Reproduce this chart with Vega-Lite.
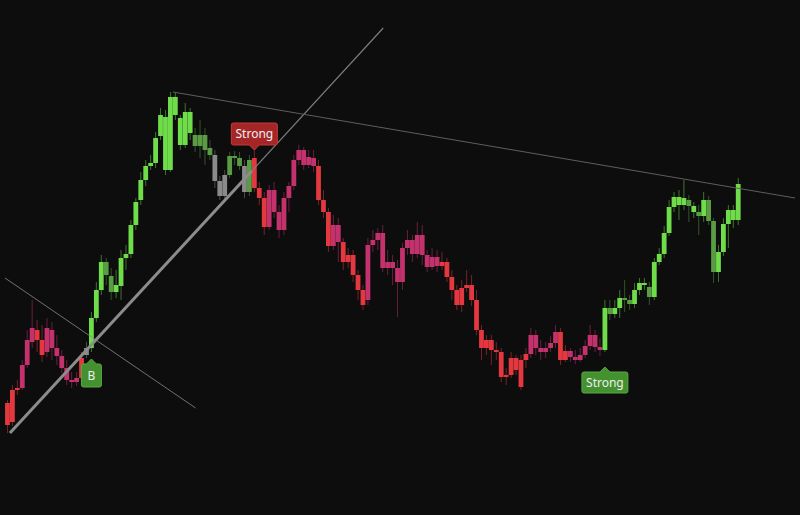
{
"$schema": "https://vega.github.io/schema/vega-lite/v6.json",
"width": 800, "height": 515,
"autosize": {"type": "fit", "contains": "padding"},
"padding": 0,
"background": "#0d0d0d",
"config": {"view": {"stroke": null}},
"datasets": {
"candles": [
{"i":0,"o":97,"h":100,"l":67,"c":75,"t":"down"},
{"i":1,"o":78,"h":115,"l":74,"c":110,"t":"down"},
{"i":2,"o":110,"h":120,"l":105,"c":112,"t":"down"},
{"i":3,"o":112,"h":140,"l":110,"c":135,"t":"downSoft"},
{"i":4,"o":135,"h":170,"l":132,"c":160,"t":"downSoft"},
{"i":5,"o":158,"h":200,"l":152,"c":172,"t":"downSoft"},
{"i":6,"o":170,"h":180,"l":148,"c":160,"t":"down"},
{"i":7,"o":160,"h":175,"l":138,"c":145,"t":"down"},
{"i":8,"o":148,"h":182,"l":143,"c":172,"t":"downSoft"},
{"i":9,"o":170,"h":178,"l":140,"c":152,"t":"downSoft"},
{"i":10,"o":152,"h":165,"l":135,"c":144,"t":"downSoft"},
{"i":11,"o":144,"h":150,"l":127,"c":132,"t":"downSoft"},
{"i":12,"o":132,"h":140,"l":115,"c":120,"t":"downSoft"},
{"i":13,"o":120,"h":128,"l":112,"c":118,"t":"downSoft"},
{"i":14,"o":118,"h":128,"l":114,"c":122,"t":"downSoft"},
{"i":15,"o":122,"h":148,"l":118,"c":142,"t":"down"},
{"i":16,"o":145,"h":158,"l":142,"c":152,"t":"flat"},
{"i":17,"o":152,"h":188,"l":148,"c":182,"t":"up"},
{"i":18,"o":182,"h":218,"l":178,"c":210,"t":"up"},
{"i":19,"o":210,"h":245,"l":205,"c":238,"t":"up"},
{"i":20,"o":238,"h":242,"l":215,"c":225,"t":"upSoft"},
{"i":21,"o":224,"h":232,"l":200,"c":208,"t":"upSoft"},
{"i":22,"o":208,"h":230,"l":202,"c":215,"t":"up"},
{"i":23,"o":214,"h":250,"l":200,"c":242,"t":"up"},
{"i":24,"o":242,"h":255,"l":230,"c":246,"t":"up"},
{"i":25,"o":246,"h":280,"l":242,"c":275,"t":"up"},
{"i":26,"o":275,"h":302,"l":270,"c":298,"t":"up"},
{"i":27,"o":300,"h":328,"l":295,"c":320,"t":"up"},
{"i":28,"o":320,"h":340,"l":314,"c":334,"t":"up"},
{"i":29,"o":334,"h":345,"l":330,"c":337,"t":"up"},
{"i":30,"o":337,"h":368,"l":332,"c":362,"t":"up"},
{"i":31,"o":364,"h":392,"l":360,"c":385,"t":"up"},
{"i":32,"o":383,"h":390,"l":325,"c":330,"t":"up"},
{"i":33,"o":330,"h":408,"l":328,"c":403,"t":"up"},
{"i":34,"o":403,"h":408,"l":380,"c":385,"t":"up"},
{"i":35,"o":382,"h":385,"l":350,"c":355,"t":"up"},
{"i":36,"o":355,"h":397,"l":352,"c":388,"t":"up"},
{"i":37,"o":388,"h":392,"l":360,"c":367,"t":"up"},
{"i":38,"o":365,"h":372,"l":348,"c":354,"t":"upSoft"},
{"i":39,"o":354,"h":380,"l":342,"c":365,"t":"upSoft"},
{"i":40,"o":365,"h":372,"l":335,"c":350,"t":"upSoft"},
{"i":41,"o":352,"h":360,"l":340,"c":345,"t":"upSoft"},
{"i":42,"o":345,"h":350,"l":312,"c":319,"t":"flat"},
{"i":43,"o":319,"h":324,"l":300,"c":304,"t":"flat"},
{"i":44,"o":304,"h":330,"l":298,"c":325,"t":"flat"},
{"i":45,"o":325,"h":348,"l":322,"c":344,"t":"upSoft"},
{"i":46,"o":344,"h":349,"l":335,"c":342,"t":"upSoft"},
{"i":47,"o":342,"h":348,"l":330,"c":334,"t":"upSoft"},
{"i":48,"o":334,"h":340,"l":302,"c":308,"t":"flat"},
{"i":49,"o":308,"h":345,"l":304,"c":340,"t":"upSoft"},
{"i":50,"o":342,"h":350,"l":308,"c":312,"t":"down"},
{"i":51,"o":312,"h":318,"l":295,"c":302,"t":"down"},
{"i":52,"o":302,"h":308,"l":265,"c":273,"t":"down"},
{"i":53,"o":273,"h":315,"l":270,"c":310,"t":"downSoft"},
{"i":54,"o":310,"h":318,"l":282,"c":288,"t":"downSoft"},
{"i":55,"o":288,"h":295,"l":262,"c":270,"t":"downSoft"},
{"i":56,"o":270,"h":308,"l":265,"c":302,"t":"downSoft"},
{"i":57,"o":302,"h":318,"l":288,"c":314,"t":"downSoft"},
{"i":58,"o":314,"h":345,"l":310,"c":340,"t":"downSoft"},
{"i":59,"o":340,"h":355,"l":335,"c":350,"t":"downSoft"},
{"i":60,"o":350,"h":353,"l":330,"c":335,"t":"downSoft"},
{"i":61,"o":335,"h":350,"l":332,"c":343,"t":"downSoft"},
{"i":62,"o":342,"h":350,"l":328,"c":334,"t":"downSoft"},
{"i":63,"o":334,"h":340,"l":295,"c":300,"t":"down"},
{"i":64,"o":300,"h":310,"l":282,"c":288,"t":"down"},
{"i":65,"o":288,"h":292,"l":248,"c":254,"t":"down"},
{"i":66,"o":254,"h":285,"l":250,"c":275,"t":"downSoft"},
{"i":67,"o":275,"h":282,"l":238,"c":258,"t":"downSoft"},
{"i":68,"o":258,"h":262,"l":230,"c":238,"t":"down"},
{"i":69,"o":238,"h":252,"l":232,"c":245,"t":"down"},
{"i":70,"o":245,"h":250,"l":218,"c":225,"t":"down"},
{"i":71,"o":225,"h":230,"l":200,"c":210,"t":"down"},
{"i":72,"o":210,"h":215,"l":190,"c":195,"t":"down"},
{"i":73,"o":200,"h":262,"l":195,"c":255,"t":"downSoft"},
{"i":74,"o":255,"h":270,"l":248,"c":260,"t":"downSoft"},
{"i":75,"o":260,"h":272,"l":250,"c":267,"t":"downSoft"},
{"i":76,"o":267,"h":275,"l":228,"c":232,"t":"downSoft"},
{"i":77,"o":232,"h":250,"l":225,"c":238,"t":"downSoft"},
{"i":78,"o":238,"h":245,"l":215,"c":232,"t":"downSoft"},
{"i":79,"o":232,"h":240,"l":183,"c":218,"t":"downSoft"},
{"i":80,"o":218,"h":257,"l":210,"c":252,"t":"downSoft"},
{"i":81,"o":252,"h":270,"l":245,"c":260,"t":"downSoft"},
{"i":82,"o":260,"h":265,"l":238,"c":246,"t":"downSoft"},
{"i":83,"o":246,"h":278,"l":242,"c":265,"t":"downSoft"},
{"i":84,"o":265,"h":275,"l":235,"c":245,"t":"downSoft"},
{"i":85,"o":245,"h":250,"l":228,"c":233,"t":"downSoft"},
{"i":86,"o":233,"h":252,"l":230,"c":243,"t":"downSoft"},
{"i":87,"o":243,"h":250,"l":228,"c":234,"t":"downSoft"},
{"i":88,"o":234,"h":248,"l":230,"c":238,"t":"down"},
{"i":89,"o":238,"h":242,"l":218,"c":223,"t":"down"},
{"i":90,"o":223,"h":230,"l":200,"c":210,"t":"down"},
{"i":91,"o":210,"h":215,"l":190,"c":195,"t":"down"},
{"i":92,"o":195,"h":220,"l":188,"c":212,"t":"down"},
{"i":93,"o":212,"h":230,"l":208,"c":215,"t":"down"},
{"i":94,"o":215,"h":225,"l":194,"c":200,"t":"down"},
{"i":95,"o":200,"h":210,"l":165,"c":170,"t":"down"},
{"i":96,"o":170,"h":175,"l":140,"c":152,"t":"down"},
{"i":97,"o":152,"h":165,"l":145,"c":160,"t":"down"},
{"i":98,"o":160,"h":165,"l":135,"c":150,"t":"down"},
{"i":99,"o":150,"h":158,"l":140,"c":148,"t":"down"},
{"i":100,"o":148,"h":152,"l":118,"c":123,"t":"down"},
{"i":101,"o":123,"h":132,"l":115,"c":125,"t":"down"},
{"i":102,"o":125,"h":148,"l":122,"c":142,"t":"down"},
{"i":103,"o":142,"h":145,"l":125,"c":130,"t":"down"},
{"i":104,"o":113,"h":145,"l":110,"c":140,"t":"down"},
{"i":105,"o":140,"h":152,"l":132,"c":146,"t":"down"},
{"i":106,"o":146,"h":172,"l":142,"c":165,"t":"downSoft"},
{"i":107,"o":165,"h":170,"l":145,"c":152,"t":"downSoft"},
{"i":108,"o":152,"h":160,"l":140,"c":148,"t":"downSoft"},
{"i":109,"o":148,"h":158,"l":142,"c":152,"t":"downSoft"},
{"i":110,"o":152,"h":164,"l":148,"c":157,"t":"downSoft"},
{"i":111,"o":157,"h":175,"l":152,"c":168,"t":"downSoft"},
{"i":112,"o":168,"h":172,"l":135,"c":140,"t":"down"},
{"i":113,"o":140,"h":155,"l":138,"c":149,"t":"down"},
{"i":114,"o":149,"h":152,"l":138,"c":143,"t":"downSoft"},
{"i":115,"o":143,"h":150,"l":136,"c":140,"t":"downSoft"},
{"i":116,"o":140,"h":152,"l":138,"c":145,"t":"downSoft"},
{"i":117,"o":145,"h":160,"l":142,"c":154,"t":"downSoft"},
{"i":118,"o":154,"h":175,"l":150,"c":165,"t":"downSoft"},
{"i":119,"o":165,"h":170,"l":148,"c":153,"t":"downSoft"},
{"i":120,"o":153,"h":162,"l":144,"c":150,"t":"downSoft"},
{"i":121,"o":150,"h":200,"l":148,"c":192,"t":"up"},
{"i":122,"o":192,"h":200,"l":180,"c":186,"t":"upSoft"},
{"i":123,"o":186,"h":200,"l":182,"c":192,"t":"up"},
{"i":124,"o":192,"h":210,"l":182,"c":202,"t":"up"},
{"i":125,"o":202,"h":220,"l":188,"c":200,"t":"upSoft"},
{"i":126,"o":200,"h":205,"l":190,"c":196,"t":"upSoft"},
{"i":127,"o":196,"h":217,"l":192,"c":210,"t":"up"},
{"i":128,"o":210,"h":222,"l":205,"c":217,"t":"up"},
{"i":129,"o":217,"h":222,"l":210,"c":215,"t":"up"},
{"i":130,"o":213,"h":218,"l":195,"c":203,"t":"upSoft"},
{"i":131,"o":203,"h":242,"l":200,"c":238,"t":"up"},
{"i":132,"o":238,"h":252,"l":235,"c":246,"t":"up"},
{"i":133,"o":246,"h":274,"l":242,"c":267,"t":"up"},
{"i":134,"o":267,"h":300,"l":264,"c":293,"t":"up"},
{"i":135,"o":293,"h":308,"l":288,"c":303,"t":"up"},
{"i":136,"o":303,"h":310,"l":280,"c":295,"t":"up"},
{"i":137,"o":295,"h":320,"l":290,"c":302,"t":"up"},
{"i":138,"o":300,"h":305,"l":278,"c":294,"t":"upSoft"},
{"i":139,"o":294,"h":298,"l":282,"c":288,"t":"up"},
{"i":140,"o":288,"h":295,"l":265,"c":284,"t":"upSoft"},
{"i":141,"o":284,"h":308,"l":278,"c":300,"t":"up"},
{"i":142,"o":300,"h":304,"l":275,"c":279,"t":"upSoft"},
{"i":143,"o":279,"h":282,"l":217,"c":228,"t":"upSoft"},
{"i":144,"o":228,"h":255,"l":218,"c":248,"t":"up"},
{"i":145,"o":248,"h":282,"l":244,"c":276,"t":"up"},
{"i":146,"o":276,"h":295,"l":252,"c":290,"t":"up"},
{"i":147,"o":290,"h":295,"l":272,"c":280,"t":"up"},
{"i":148,"o":280,"h":322,"l":275,"c":316,"t":"up"}
],
"lines": [
{"id":"support","i":0.5,"p":67},{"id":"support","i":49.5,"p":329},
{"id":"supportExt","i":49.5,"p":329},{"id":"supportExt","i":76.1,"p":472},
{"id":"fall","i":-0.5,"p":222},{"id":"fall","i":38.1,"p":92},
{"id":"top","i":33.5,"p":408},{"id":"top","i":159.5,"p":302}
],
"signals": [
{"i":17,"at":141,"kind":"buyB","label":"B"},
{"i":50,"at":350,"kind":"sellStrong","label":"Strong"},
{"i":121,"at":133,"kind":"buyStrong","label":"Strong"}
]
},
"encoding": {
"x": {"field":"i","type":"quantitative","scale":{"domain":[-0.5,159.5],"nice":false,"zero":false},"axis":null}
},
"layer": [
{"data":{"name":"candles"},
 "mark":{"type":"rule","strokeWidth":1,"opacity":0.5},
 "encoding":{
  "y":{"field":"l","type":"quantitative","scale":{"domain":[-15,500],"nice":false,"zero":false},"axis":null},
  "y2":{"field":"h"},
  "color":{"field":"t","type":"nominal","legend":null,"scale":{"domain":["up","upSoft","flat","downSoft","down"],"range":["#6fdc4a","#5a9c44","#8a8a8a","#c4326e","#e3383f"]}}
 }},
{"data":{"name":"candles"},
 "mark":{"type":"bar","size":4.8},
 "encoding":{
  "y":{"field":"o","type":"quantitative"},
  "y2":{"field":"c"},
  "color":{"field":"t","type":"nominal","legend":null}
 }},
{"data":{"name":"lines"},
 "transform":[{"filter":"datum.id == 'support'"}],
 "mark":{"type":"line","color":"#8c8c8c","strokeWidth":3,"clip":true},
 "encoding":{"y":{"field":"p","type":"quantitative"}}},
{"data":{"name":"lines"},
 "transform":[{"filter":"datum.id == 'supportExt'"}],
 "mark":{"type":"line","color":"#7c7c7c","strokeWidth":1.2,"clip":true},
 "encoding":{"y":{"field":"p","type":"quantitative"}}},
{"data":{"name":"lines"},
 "transform":[{"filter":"datum.id == 'fall'"}],
 "mark":{"type":"line","color":"#8a8a8a","strokeWidth":1,"opacity":0.8,"clip":true},
 "encoding":{"y":{"field":"p","type":"quantitative"}}},
{"data":{"name":"lines"},
 "transform":[{"filter":"datum.id == 'top'"}],
 "mark":{"type":"line","color":"#5e5e5e","strokeWidth":1,"clip":true},
 "encoding":{"y":{"field":"p","type":"quantitative"}}},
{"data":{"name":"signals"},
 "transform":[{"filter":"datum.kind == 'buyStrong'"}],
 "mark":{"type":"point","shape":"M0,0L5,5H21Q23,5 23,7V24Q23,26 21,26H-21Q-23,26 -23,24V7Q-23,5 -21,5H-5Z","size":4,"filled":true,"fill":"#43912f","stroke":"#5aa847","strokeWidth":1,"opacity":1},
 "encoding":{"y":{"field":"at","type":"quantitative"}}},
{"data":{"name":"signals"},
 "transform":[{"filter":"datum.kind == 'buyB'"}],
 "mark":{"type":"point","shape":"M0,0L5,5H8Q10,5 10,7V26Q10,28 8,28H-8Q-10,28 -10,26V7Q-10,5 -8,5H-5Z","size":4,"filled":true,"fill":"#43912f","stroke":"#5aa847","strokeWidth":1,"opacity":1},
 "encoding":{"y":{"field":"at","type":"quantitative"}}},
{"data":{"name":"signals"},
 "transform":[{"filter":"datum.kind == 'sellStrong'"}],
 "mark":{"type":"point","shape":"M0,0L-5,-5H-21Q-23,-5 -23,-7V-25Q-23,-27 -21,-27H21Q23,-27 23,-25V-7Q23,-5 21,-5H5Z","size":4,"filled":true,"fill":"#a62628","stroke":"#c03a3a","strokeWidth":1,"opacity":1},
 "encoding":{"y":{"field":"at","type":"quantitative"}}},
{"data":{"name":"signals"},
 "transform":[{"filter":"datum.kind == 'buyStrong'"}],
 "mark":{"type":"text","dy":15.5,"baseline":"middle","align":"center","color":"#eeeeee","fontSize":12,"font":"Noto Sans"},
 "encoding":{"y":{"field":"at","type":"quantitative"},"text":{"field":"label"}}},
{"data":{"name":"signals"},
 "transform":[{"filter":"datum.kind == 'buyB'"}],
 "mark":{"type":"text","dy":16.5,"baseline":"middle","align":"center","color":"#eeeeee","fontSize":12,"font":"Noto Sans"},
 "encoding":{"y":{"field":"at","type":"quantitative"},"text":{"field":"label"}}},
{"data":{"name":"signals"},
 "transform":[{"filter":"datum.kind == 'sellStrong'"}],
 "mark":{"type":"text","dy":-16,"baseline":"middle","align":"center","color":"#eeeeee","fontSize":12,"font":"Noto Sans"},
 "encoding":{"y":{"field":"at","type":"quantitative"},"text":{"field":"label"}}}
]
}
